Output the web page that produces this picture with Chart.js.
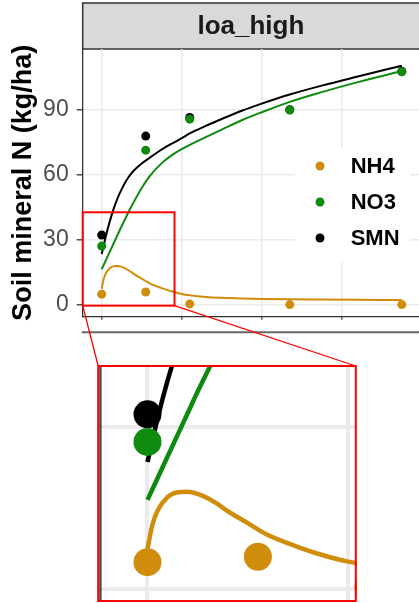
<!DOCTYPE html>
<html>
<head>
<meta charset="utf-8">
<script src="https://cdn.jsdelivr.net/npm/chart.js@4.4.1/dist/chart.umd.min.js"></script>
<style>
  html, body { margin: 0; padding: 0; background: #fff; overflow: hidden; }
  #wrap { position: relative; width: 419px; height: 603px; }
  #mainBox { position: absolute; left: 0; top: 0; width: 419px; height: 603px; }
  #zoomBox { position: absolute; left: 97px; top: 365px; width: 260px; height: 237px; background: #fff; }
</style>
</head>
<body>
<div id="wrap">
  <div id="mainBox"><canvas id="mainChart"></canvas></div>
  <div id="zoomBox"><canvas id="zoomChart"></canvas></div>
</div>
<script>
// facet + labels
const facetLabel = 'loa_high';
const yTitle = 'Soil mineral N (kg/ha)';
const seriesNames = ['NH4', 'NO3', 'SMN'];
const seriesColors = ['#d08d0b', '#0e8a0e', '#000000'];

// observed values (days after sampling start)
const sampleDays = [0, 11, 22, 47, 75];
const nh4Obs = [5, 6, 0.5, 0.2, 0.2];
const no3Obs = [27.2, 71.5, 85.8, 90, 107.7];
const smnObs = [32.3, 78, 86.6, 90.2, 107.9];

// fitted curves
const fitDays = [0, 0.5, 1, 2, 3, 4, 5, 6, 7, 8, 10, 12, 15, 18, 20, 22, 26, 30, 35, 40, 47, 55, 64, 75];
const nh4Fit = [7.5, 12, 14.5, 17, 17.9, 18, 17.6, 16.8, 15.7, 14.4, 12.2, 10, 7.8, 6, 5.1, 4.5, 3.7, 3.3, 3, 2.8, 2.6, 2.5, 2.4, 2.3];
const no3Fit = [16.5, 18.5, 20.5, 24.5, 28.5, 32.5, 36.5, 40.3, 44, 47.5, 54, 59.5, 65.5, 69.8, 72, 73.9, 77.5, 81, 85.3, 89, 93.8, 98.3, 102.9, 108];
const smnFit = [23.5, 27.5, 31.5, 38.5, 44.5, 49.5, 53.5, 57, 59.8, 62, 65.3, 68, 71.8, 75, 77, 79.2, 82.7, 85.9, 89.7, 93, 97.2, 101.3, 105.5, 110.5];

// axis ticks
const yTicks = [0, 30, 60, 90];
const xTicks = [0, 20, 40, 60, 80];

// axis ranges (main panel and the zoomed view)
const mainX = [-4.75, 79.3];
const mainY = [-5.4, 118.2];
const zoomArea = { x: [-4.75, 18.2], y: [-0.3, 42.8] };
const insetX = [-5.03, 20.87];
const insetY = [-2.35, 41.4];

Chart.defaults.font.family = "'Liberation Sans', Arial, sans-serif";

const pairs = (xs, ys) => xs.map((x, i) => ({ x: x, y: ys[i] }));

function buildDatasets(pointR, lineW) {
  const obs = [nh4Obs, no3Obs, smnObs];
  const fits = [nh4Fit, no3Fit, smnFit];
  const sets = [];
  fits.forEach((f, i) => {
    sets.push({
      label: seriesNames[i] + ' fit',
      data: pairs(fitDays, f),
      borderColor: seriesColors[i],
      borderWidth: lineW,
      pointRadius: 0,
      fill: false,
      clip: 0,
      cubicInterpolationMode: 'monotone',
      order: 10 + i
    });
  });
  obs.forEach((o, i) => {
    sets.push({
      label: seriesNames[i],
      data: pairs(sampleDays, o),
      showLine: false,
      backgroundColor: seriesColors[i],
      borderWidth: 0,
      pointRadius: pointR,
      clip: 0,
      order: i + 1 // NH4 on top, SMN underneath
    });
  });
  return sets;
}

// zoomed view (built first so the main chart can draw connectors to it)
const zoomChart = new Chart(document.getElementById('zoomChart'), {
  type: 'line',
  data: { datasets: buildDatasets(14, 4.5) },
  options: {
    responsive: true,
    maintainAspectRatio: false,
    animation: false,
    layout: { padding: 0, autoPadding: false },
    plugins: { legend: { display: false }, tooltip: { enabled: false } },
    scales: {
      x: {
        type: 'linear', min: insetX[0], max: insetX[1],
        afterBuildTicks: s => { s.ticks = xTicks.map(v => ({ value: v })); },
        afterFit: s => { s.height = 0; },
        ticks: { display: false },
        grid: { color: '#ebebeb', lineWidth: 4, drawTicks: false },
        border: { display: false }
      },
      y: {
        min: insetY[0], max: insetY[1],
        afterBuildTicks: s => { s.ticks = yTicks.map(v => ({ value: v })); },
        afterFit: s => { s.width = 0; },
        ticks: { display: false },
        grid: { color: '#ebebeb', lineWidth: 4, drawTicks: false },
        border: { display: false }
      }
    }
  },
  plugins: [{
    id: 'insetFrame',
    beforeDatasetsDraw(chart) {
      // left border of the main panel, seen at zoom
      const { ctx, chartArea, scales } = chart;
      const px = scales.x.getPixelForValue(mainX[0]) + 0.6;
      ctx.save();
      ctx.strokeStyle = '#4a4a4a';
      ctx.lineWidth = 2.4;
      ctx.beginPath();
      ctx.moveTo(px, chartArea.top);
      ctx.lineTo(px, chartArea.bottom);
      ctx.stroke();
      ctx.restore();
    },
    afterDraw(chart) {
      const { ctx, width, height } = chart;
      ctx.save();
      ctx.strokeStyle = '#ff0000';
      ctx.lineWidth = 2;
      ctx.strokeRect(1.2, 1, width - 2.4, height - 2);
      ctx.restore();
    }
  }]
});

const mainChart = new Chart(document.getElementById('mainChart'), {
  type: 'line',
  data: { datasets: buildDatasets(4.5, 2) },
  options: {
    responsive: true,
    maintainAspectRatio: false,
    animation: false,
    layout: { padding: { top: 49, bottom: 282.3, left: 0, right: 0 }, autoPadding: false },
    plugins: { legend: { display: false }, tooltip: { enabled: false } },
    scales: {
      x: {
        type: 'linear', min: mainX[0], max: mainX[1],
        afterBuildTicks: s => { s.ticks = xTicks.map(v => ({ value: v })); },
        afterFit: s => { s.height = 4; },
        ticks: { display: false },
        grid: { color: '#ebebeb', lineWidth: 1.6, tickLength: 3, tickColor: '#333333', tickWidth: 1.2 },
        border: { display: true, color: '#333333', width: 1.3 }
      },
      y: {
        min: mainY[0], max: mainY[1],
        afterBuildTicks: s => { s.ticks = yTicks.map(v => ({ value: v })); },
        afterFit: s => { s.width = 82.7; },
        ticks: { color: '#4d4d4d', font: { size: 23 }, padding: 8 },
        grid: { color: '#ebebeb', lineWidth: 1.6, tickLength: 6, tickColor: '#333333', tickWidth: 1.3 },
        border: { display: true, color: '#333333', width: 1.3 },
        title: {
          display: true, text: yTitle, color: '#000000',
          font: { size: 27, weight: 'bold' }, padding: { top: 7, bottom: 0 }
        }
      }
    }
  },
  plugins: [{
    id: 'facetStrip',
    beforeDraw(chart) {
      const { ctx, chartArea, width } = chart;
      ctx.save();
      ctx.fillStyle = '#d9d9d9';
      ctx.fillRect(chartArea.left, 3, width - chartArea.left + 4, chartArea.top - 3);
      ctx.strokeStyle = '#333333';
      ctx.lineWidth = 1.5;
      ctx.strokeRect(chartArea.left, 3, width - chartArea.left + 4, chartArea.top - 3);
      ctx.fillStyle = '#1a1a1a';
      ctx.font = "bold 26px 'Liberation Sans', Arial, sans-serif";
      ctx.textAlign = 'center';
      ctx.textBaseline = 'middle';
      ctx.fillText(facetLabel, (chartArea.left + width) / 2, (3 + chartArea.top) / 2 + 1);
      ctx.restore();
    },
    afterDraw(chart) {
      const { ctx, chartArea, scales, width } = chart;
      ctx.save();

      // legend inside the panel
      const lx = chartArea.right - 124, ly = chartArea.top + 99;
      ctx.fillStyle = '#ffffff';
      ctx.fillRect(lx, ly, 115, 114);
      ctx.font = "bold 22px 'Liberation Sans', Arial, sans-serif";
      ctx.textBaseline = 'middle';
      ctx.textAlign = 'left';
      seriesNames.forEach((name, i) => {
        const ry = ly + 18 + i * 36;
        ctx.fillStyle = seriesColors[i];
        ctx.beginPath();
        ctx.arc(lx + 25, ry, 4.5, 0, Math.PI * 2);
        ctx.fill();
        ctx.fillStyle = '#000000';
        ctx.fillText(name, lx + 55.7, ry + 1);
      });

      // top of the next facet (cut off)
      ctx.strokeStyle = '#666666';
      ctx.lineWidth = 2;
      ctx.beginPath();
      ctx.moveTo(chartArea.left - 1, chartArea.bottom + 15.5);
      ctx.lineTo(width, chartArea.bottom + 15.5);
      ctx.stroke();

      // zoom box
      const bx0 = scales.x.getPixelForValue(zoomArea.x[0]);
      const bx1 = scales.x.getPixelForValue(zoomArea.x[1]);
      const by0 = scales.y.getPixelForValue(zoomArea.y[1]);
      const by1 = scales.y.getPixelForValue(zoomArea.y[0]);
      ctx.strokeStyle = '#ff0000';
      ctx.lineWidth = 2;
      ctx.strokeRect(bx0, by0, bx1 - bx0, by1 - by0);

      // connectors to the zoomed view
      const box = zoomChart.canvas.parentNode;
      const ix0 = box.offsetLeft + 1.2;
      const ix1 = box.offsetLeft + zoomChart.width - 1.2;
      const iy = box.offsetTop + 1;
      ctx.lineWidth = 1.3;
      ctx.beginPath();
      ctx.moveTo(bx0, by1);
      ctx.lineTo(ix0, iy);
      ctx.moveTo(bx1, by1);
      ctx.lineTo(ix1, iy);
      ctx.stroke();
      ctx.restore();
    }
  }]
});
</script>
</body>
</html>
